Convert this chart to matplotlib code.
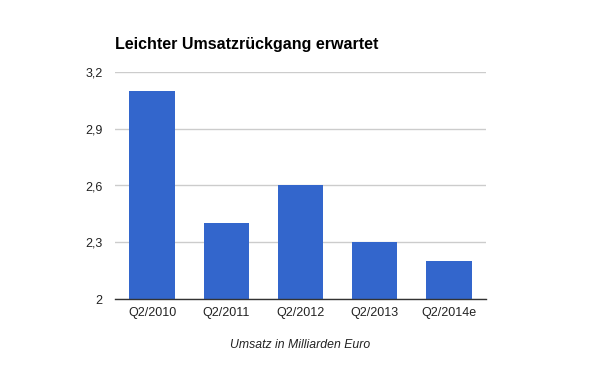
import matplotlib
matplotlib.use("Agg")
import matplotlib.pyplot as plt

categories = ["Q2/2010", "Q2/2011", "Q2/2012", "Q2/2013", "Q2/2014e"]
values = [3.1, 2.4, 2.6, 2.3, 2.2]
yticks = [2.0, 2.3, 2.6, 2.9, 3.2]
ytick_labels = ["2", "2,3", "2,6", "2,9", "3,2"]

plt.rcParams['font.family'] = ['Liberation Sans', 'DejaVu Sans']

fig = plt.figure(figsize=(6, 3.71), dpi=100)
ax = fig.add_axes([115/600, 1-299/371, (486-115)/600, (299-72)/371])

ax.bar(range(len(categories)), values, width=0.61, color="#3366cc", zorder=2)
ax.set_ylim(2.0, 3.2)
ax.set_xlim(-0.5, len(categories)-0.5)
ax.set_yticks(yticks)
ax.set_yticklabels(ytick_labels)
ax.set_xticks(range(len(categories)))
ax.set_xticklabels(categories)
ax.yaxis.grid(True, color="#cccccc", linewidth=1, zorder=0)
ax.set_axisbelow(True)
for s in ["top", "right", "left"]:
    ax.spines[s].set_visible(False)
ax.spines["bottom"].set_color("#333333")
ax.spines["bottom"].set_linewidth(1)
ax.spines["bottom"].set_zorder(3)
ax.tick_params(axis="both", length=0, labelsize=9, colors="#222222")
ax.tick_params(axis="y", pad=9)
ax.tick_params(axis="x", pad=6)

fig.text(115/600, 1-45/371, "Leichter Umsatzrückgang erwartet", fontsize=11.5,
         fontweight="bold", ha="left", va="center", color="#000000")
fig.text((115+486)/2/600, 1-345/371, "Umsatz in Milliarden Euro", fontsize=8.8,
         style="italic", ha="center", va="center", color="#222222")

fig.savefig("out.png", dpi=100)
